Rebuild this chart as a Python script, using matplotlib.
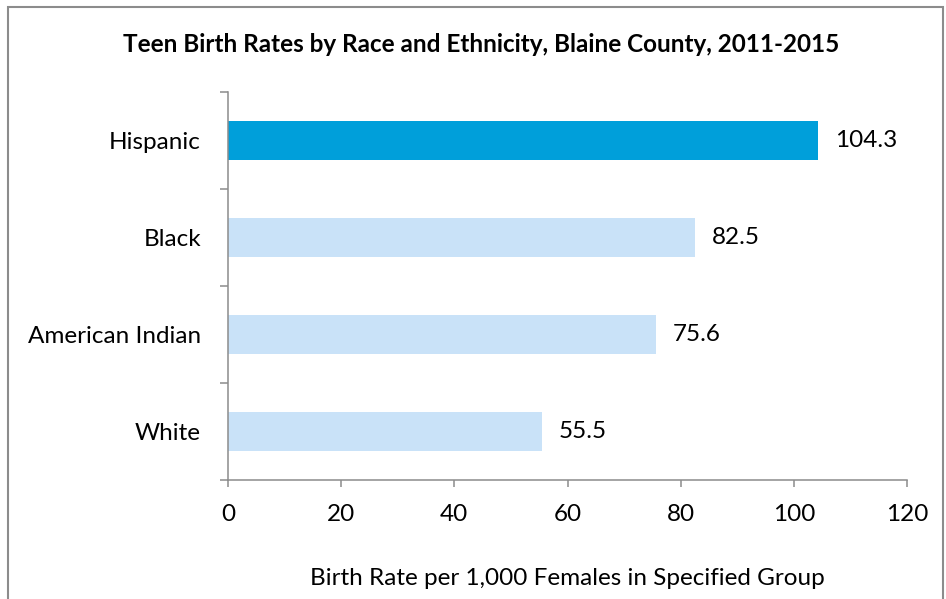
import matplotlib.pyplot as plt
from matplotlib.patches import Rectangle

# Datos
groups = ["White", "American Indian", "Black", "Hispanic"]
rates = [55.5, 75.6, 82.5, 104.3]
colors = ["#C9E2F8", "#C9E2F8", "#C9E2F8", "#009FDA"]
xticks = [0, 20, 40, 60, 80, 100, 120]

plt.rcParams["font.family"] = ["Lato", "DejaVu Sans"]
gray = "#8C8C8C"

fig = plt.figure(figsize=(9.46, 5.99), dpi=100)
ax = fig.add_axes([0.241, 0.1987, 0.7178, 0.6477])

ypos = range(len(groups))
ax.barh(ypos, rates, height=0.4, color=colors)

# Etiquetas de valor
for y, v in zip(ypos, rates):
    ax.text(v + 3.0, y, f"{v:.1f}", va="center", ha="left", fontsize=17.5)

ax.set_xlim(0, 120)
ax.set_ylim(-0.5, len(groups) - 0.5)
ax.set_xticks(xticks)
ax.set_yticks(ypos)
ax.set_yticklabels(groups)
ax.set_yticks([i - 0.5 for i in range(len(groups) + 1)], minor=True)

ax.tick_params(axis="y", which="major", length=0, pad=19.5, labelsize=17.5)
ax.tick_params(axis="y", which="minor", length=6, width=1.1, color=gray, direction="out")
ax.tick_params(axis="x", length=5, width=1.1, color=gray, pad=12, labelsize=17.5)

for s in ["top", "right"]:
    ax.spines[s].set_visible(False)
for s in ["left", "bottom"]:
    ax.spines[s].set_color(gray)
    ax.spines[s].set_linewidth(1.1)

ax.set_xlabel("Birth Rate per 1,000 Females in Specified Group", fontsize=17.5, labelpad=31)
fig.text(0.509, 0.925, "Teen Birth Rates by Race and Ethnicity, Blaine County, 2011-2015",
         ha="center", va="center", fontsize=17.5, fontweight="bold")

# Marco
fig.add_artist(Rectangle((8 / 946, -0.05), 935 / 946, 1.05 - 7 / 599,
                         transform=fig.transFigure, fill=False, edgecolor=gray, linewidth=1.5))

plt.savefig("out.png", dpi=100)
